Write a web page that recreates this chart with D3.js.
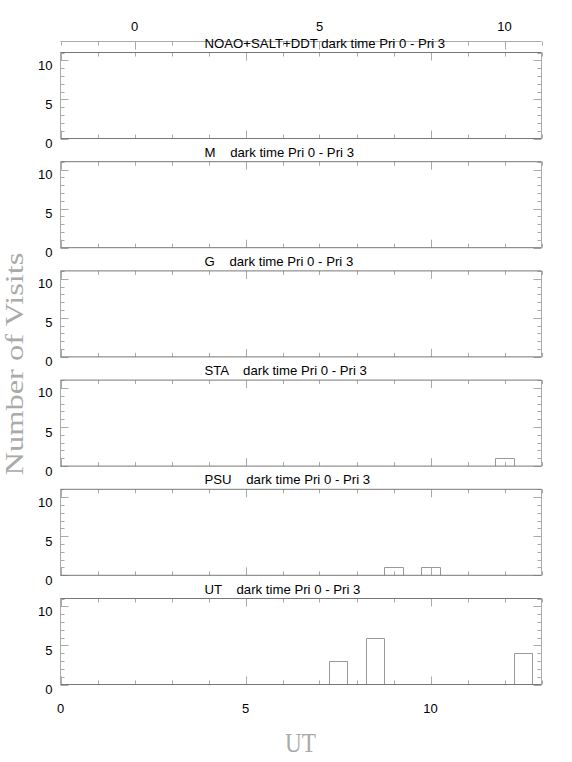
<!DOCTYPE html>
<html>
<head>
<meta charset="utf-8">
<script src="https://cdn.jsdelivr.net/npm/d3@7/dist/d3.min.js"></script>
<style>
  html, body { margin: 0; padding: 0; background: #fff; }
  svg { display: block; }
  text { font-family: "Liberation Sans", Arial, Helvetica, sans-serif; }
</style>
</head>
<body>
<script>
// ---- data ----
const panelNames = ["NOAO+SALT+DDT", "M", "G", "STA", "PSU", "UT"];
const panelTitles = [
  "NOAO+SALT+DDT dark time Pri 0 - Pri 3",
  "M    dark time Pri 0 - Pri 3",
  "G    dark time Pri 0 - Pri 3",
  "STA    dark time Pri 0 - Pri 3",
  "PSU    dark time Pri 0 - Pri 3",
  "UT    dark time Pri 0 - Pri 3"
];
const binWidth = 0.5;
// bin start (UT hours) and number of visits
const noaoStarts = [], noaoCounts = [];
const mStarts = [], mCounts = [];
const gStarts = [], gCounts = [];
const staStarts = [11.75], staCounts = [1];
const psuStarts = [8.75, 9.75], psuCounts = [1, 1];
const utStarts = [7.25, 8.25, 12.25], utCounts = [3, 6, 4];
const panelStarts = [noaoStarts, mStarts, gStarts, staStarts, psuStarts, utStarts];
const panelCounts = [noaoCounts, mCounts, gCounts, staCounts, psuCounts, utCounts];

const xDomain = [0, 13];
const topDomain = [-2, 11];
const yDomain = [0, 11];
const xTickLabels = [0, 5, 10];
const yTickLabels = [0, 5, 10];
const topTickLabels = [0, 5, 10];

// ---- layout ----
const W = 572, H = 762;
const left = 60.5, right = 541.5;
const firstTop = 52.5, panelH = 86, panelStep = 109.2;
const minorLen = 4, majorLen = 8;
const axisGrey = "#aaa", borderGrey = "#777", barGrey = "#999";

const svg = d3.select("body").append("svg").attr("width", W).attr("height", H);

const x = d3.scaleLinear().domain(xDomain).range([left, right]);
const xTop = d3.scaleLinear().domain(topDomain).range([left, right]);
const xTicks = d3.range(xDomain[0], xDomain[1] + 1);
const topTicks = d3.range(topDomain[0], topDomain[1] + 1);
const yTicks = d3.range(yDomain[0], yDomain[1] + 1);

// ---- top (offset) axis ----
const topAxisY = 41.5;
const topG = svg.append("g");
topG.append("line").attr("x1", left).attr("x2", right)
  .attr("y1", topAxisY).attr("y2", topAxisY).attr("stroke", axisGrey);
topG.selectAll("line.t").data(topTicks).join("line").attr("class", "t")
  .attr("x1", d => Math.round(xTop(d)) + 0.5).attr("x2", d => Math.round(xTop(d)) + 0.5)
  .attr("y1", topAxisY).attr("y2", d => topAxisY + (d % 5 === 0 ? majorLen : minorLen))
  .attr("stroke", axisGrey);
topG.selectAll("text").data(topTickLabels).join("text")
  .attr("x", d => xTop(d)).attr("y", 31)
  .attr("text-anchor", "middle").attr("font-size", 13).text(d => d);

// ---- panels ----
panelNames.forEach((name, i) => {
  const top = firstTop + i * panelStep;
  const bottom = top + panelH;
  const y = d3.scaleLinear().domain(yDomain).range([bottom, top]);
  const g = svg.append("g").attr("class", "panel-" + name);

  // title
  g.append("text").attr("x", 204.5).attr("y", top - 5)
    .attr("font-size", 13.2).style("white-space", "pre")
    .attr("xml:space", "preserve").text(panelTitles[i]);

  // bars
  const bars = panelStarts[i].map((s, k) => ({ s, c: panelCounts[i][k] }));
  g.selectAll("path.bar").data(bars).join("path").attr("class", "bar")
    .attr("d", d => {
      const x0 = Math.round(x(d.s)) + 0.5, x1 = Math.round(x(d.s + binWidth)) + 0.5;
      const yb = bottom, yt = Math.round(y(d.c)) + 0.5;
      return `M${x0},${yb}V${yt}H${x1}V${yb}`;
    })
    .attr("fill", "none").attr("stroke", barGrey);

  // x ticks (top & bottom, inward)
  g.selectAll("line.xb").data(xTicks).join("line").attr("class", "xb")
    .attr("x1", d => Math.round(x(d)) + 0.5).attr("x2", d => Math.round(x(d)) + 0.5)
    .attr("y1", bottom).attr("y2", d => bottom - (d % 5 === 0 ? majorLen : minorLen))
    .attr("stroke", axisGrey);
  g.selectAll("line.xt").data(xTicks).join("line").attr("class", "xt")
    .attr("x1", d => Math.round(x(d)) + 0.5).attr("x2", d => Math.round(x(d)) + 0.5)
    .attr("y1", top).attr("y2", d => top + (d % 5 === 0 ? majorLen : minorLen))
    .attr("stroke", axisGrey);
  // y ticks (left & right, inward)
  g.selectAll("line.yl").data(yTicks).join("line").attr("class", "yl")
    .attr("y1", d => Math.round(y(d)) + 0.5).attr("y2", d => Math.round(y(d)) + 0.5)
    .attr("x1", left).attr("x2", d => left + (d % 5 === 0 ? majorLen : minorLen))
    .attr("stroke", axisGrey);
  g.selectAll("line.yr").data(yTicks).join("line").attr("class", "yr")
    .attr("y1", d => Math.round(y(d)) + 0.5).attr("y2", d => Math.round(y(d)) + 0.5)
    .attr("x1", right).attr("x2", d => right - (d % 5 === 0 ? majorLen : minorLen))
    .attr("stroke", axisGrey);

  // frame
  g.append("line").attr("x1", left).attr("x2", left).attr("y1", top).attr("y2", bottom).attr("stroke", axisGrey);
  g.append("line").attr("x1", right).attr("x2", right).attr("y1", top).attr("y2", bottom).attr("stroke", axisGrey);
  g.append("line").attr("x1", left).attr("x2", right).attr("y1", top).attr("y2", top).attr("stroke", borderGrey);
  g.append("line").attr("x1", left).attr("x2", right).attr("y1", bottom).attr("y2", bottom).attr("stroke", borderGrey);

  // y labels
  g.selectAll("text.yl").data(yTickLabels).join("text").attr("class", "yl")
    .attr("x", 52.5).attr("y", d => y(d) + 9.5)
    .attr("text-anchor", "end").attr("font-size", 13).text(d => d);

  // bottom x labels on last panel
  if (i === panelNames.length - 1) {
    g.selectAll("text.xl").data(xTickLabels).join("text").attr("class", "xl")
      .attr("x", d => x(d)).attr("y", bottom + 28)
      .attr("text-anchor", "middle").attr("font-size", 13).text(d => d);
  }
});

// ---- axis titles ----
svg.append("text").attr("x", 300.5).attr("y", 752)
  .attr("text-anchor", "middle").attr("font-size", 28)
  .style("font-family", "'Liberation Serif', 'DejaVu Serif', serif")
  .attr("fill", "#aaa").attr("textLength", 31).attr("lengthAdjust", "spacingAndGlyphs")
  .text("UT");
svg.append("text").attr("transform", "translate(22.5,364) rotate(-90)")
  .attr("text-anchor", "middle").attr("font-size", 26)
  .style("font-family", "'Liberation Serif', 'DejaVu Serif', serif")
  .attr("fill", "#aaa").attr("textLength", 223).attr("lengthAdjust", "spacingAndGlyphs")
  .text("Number of Visits");
</script>
</body>
</html>
